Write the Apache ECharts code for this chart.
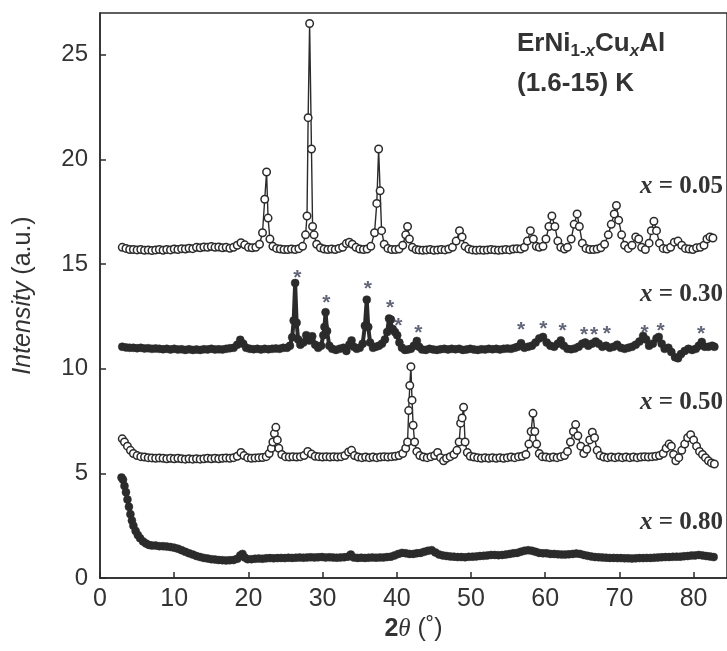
<!DOCTYPE html>
<html>
<head>
<meta charset="utf-8">
<script src="https://cdn.jsdelivr.net/npm/echarts@6/dist/echarts.min.js"></script>
<style>html,body{margin:0;padding:0;background:#fff}#c{width:727px;height:651px}</style>
</head>
<body>
<div id="c"></div>
<script>
// x = 0.05 (open circles)
const s005 = [[3.0,15.8],[3.5,15.75],[4,15.7],[4.5,15.7],[5,15.68],[5.5,15.7],[6,15.66],[6.5,15.68],[7,15.65],[7.5,15.68],[8,15.7],[8.5,15.66],[9,15.7],[9.5,15.68],[10,15.72],[10.5,15.7],[11,15.74],[11.5,15.72],[12,15.76],[12.5,15.74],[13,15.8],[13.5,15.78],[14,15.82],[14.5,15.8],[15,15.84],[15.5,15.8],[16,15.82],[16.5,15.78],[17,15.8],[17.5,15.76],[18,15.8],[18.5,15.9],[19,16.02],[19.5,15.92],[20,15.8],[20.5,15.78],[21,15.8],[21.5,15.95],[21.9,16.5],[22.2,18.1],[22.45,19.4],[22.65,17.2],[22.9,16.2],[23.3,15.85],[23.8,15.75],[24.3,15.72],[24.8,15.7],[25.3,15.7],[25.8,15.72],[26.3,15.7],[26.8,15.74],[27.3,15.85],[27.7,16.4],[27.9,17.3],[28.05,22.0],[28.25,26.5],[28.5,20.5],[28.65,16.8],[28.85,16.4],[29.2,15.95],[29.7,15.78],[30.2,15.72],[30.7,15.7],[31.2,15.72],[31.7,15.7],[32.2,15.75],[32.7,15.8],[33.2,15.98],[33.6,16.05],[34.0,15.95],[34.5,15.8],[35,15.72],[35.5,15.7],[36,15.72],[36.5,15.85],[37.0,16.5],[37.3,17.9],[37.55,20.5],[37.75,18.5],[37.95,16.6],[38.3,15.95],[38.8,15.75],[39.3,15.7],[39.8,15.7],[40.3,15.72],[40.8,15.9],[41.2,16.4],[41.45,16.8],[41.7,16.2],[42.1,15.8],[42.6,15.7],[43,15.68],[43.5,15.66],[44,15.68],[44.5,15.7],[45,15.66],[45.5,15.68],[46,15.7],[46.5,15.68],[47,15.72],[47.5,15.8],[48,16.1],[48.45,16.6],[48.8,16.3],[49.2,15.85],[49.7,15.72],[50.2,15.68],[50.7,15.66],[51.2,15.68],[51.7,15.66],[52.2,15.68],[52.7,15.7],[53.2,15.68],[53.7,15.66],[54.2,15.68],[54.7,15.7],[55.2,15.68],[55.7,15.72],[56.2,15.74],[56.7,15.72],[57.2,15.8],[57.6,16.1],[58.0,16.6],[58.4,16.2],[58.8,15.85],[59.2,15.8],[59.7,15.85],[60.1,16.2],[60.5,16.8],[60.9,17.3],[61.3,16.8],[61.7,16.1],[62.1,15.8],[62.6,15.72],[63.0,15.8],[63.5,16.2],[63.9,16.9],[64.3,17.4],[64.6,16.8],[65.0,16.0],[65.5,15.75],[66.0,15.7],[66.5,15.7],[67,15.72],[67.5,15.78],[68,15.95],[68.5,16.4],[68.9,16.9],[69.3,17.4],[69.6,17.8],[69.9,17.1],[70.3,16.4],[70.7,15.9],[71.2,15.75],[71.7,15.9],[72.2,16.3],[72.6,16.2],[73,15.8],[73.5,15.7],[74,16.0],[74.3,16.6],[74.65,17.05],[75.0,16.6],[75.4,16.0],[75.9,15.75],[76.4,15.72],[76.9,15.8],[77.4,16.05],[77.9,16.1],[78.4,15.9],[78.9,15.75],[79.4,15.72],[79.9,15.7],[80.4,15.78],[80.9,15.8],[81.4,15.9],[81.8,16.2],[82.2,16.3],[82.6,16.25]];

// x = 0.30 (filled circles)
const s030 = [[3.0,11.05],[3.5,11.02],[4,11.0],[4.5,11.0],[5,10.98],[5.5,11.0],[6,10.97],[6.5,10.98],[7,10.95],[7.5,10.97],[8,10.95],[8.5,10.93],[9,10.95],[9.5,10.92],[10,10.95],[10.5,10.92],[11,10.93],[11.5,10.9],[12,10.93],[12.5,10.9],[13,10.92],[13.5,10.9],[14,10.93],[14.5,10.92],[15,10.95],[15.5,10.92],[16,10.93],[16.5,10.92],[17,10.95],[17.5,10.98],[18,11.0],[18.5,11.15],[18.9,11.38],[19.3,11.2],[19.7,11.0],[20.2,10.95],[20.7,10.93],[21.2,10.95],[21.7,10.92],[22.2,10.95],[22.7,10.93],[23.2,10.95],[23.7,10.97],[24.2,10.95],[24.7,11.0],[25.2,11.0],[25.6,11.1],[25.9,11.5],[26.1,12.3],[26.3,14.1],[26.5,12.2],[26.7,11.4],[27.0,11.15],[27.4,11.25],[27.8,11.6],[28.2,11.35],[28.6,11.55],[29.0,11.15],[29.4,11.0],[29.8,11.1],[30.1,11.6],[30.25,12.0],[30.4,12.7],[30.6,11.8],[30.9,11.1],[31.3,10.95],[31.8,10.9],[32.3,10.95],[32.8,11.0],[33.2,10.85],[33.6,11.15],[33.9,11.35],[34.2,11.05],[34.6,10.95],[35.0,11.0],[35.4,11.2],[35.7,12.05],[35.95,13.3],[36.15,12.0],[36.4,11.25],[36.8,11.0],[37.2,11.05],[37.6,11.1],[38.0,11.2],[38.4,11.4],[38.7,11.75],[38.95,12.4],[39.2,12.35],[39.45,11.9],[39.75,11.75],[40.05,11.6],[40.35,11.25],[40.7,11.0],[41.1,10.9],[41.5,10.92],[41.9,10.95],[42.3,11.1],[42.7,11.33],[43.0,11.05],[43.4,10.92],[43.9,10.9],[44.4,10.95],[44.9,10.92],[45.4,10.9],[45.9,10.93],[46.4,10.95],[46.9,10.92],[47.4,10.95],[47.9,10.93],[48.4,10.95],[48.9,10.9],[49.4,10.92],[49.9,10.95],[50.4,10.92],[50.9,10.9],[51.4,10.93],[51.9,10.92],[52.4,10.95],[52.9,10.93],[53.4,10.95],[53.9,10.92],[54.4,10.95],[54.9,10.97],[55.4,10.95],[55.9,11.0],[56.3,11.05],[56.75,11.22],[57.2,11.0],[57.7,11.05],[58.2,11.1],[58.7,11.25],[59.2,11.45],[59.7,11.52],[60.2,11.25],[60.7,11.1],[61.2,11.05],[61.7,11.2],[62.1,11.35],[62.5,11.1],[63.0,10.95],[63.5,10.93],[64.0,10.97],[64.5,11.05],[65.0,11.2],[65.4,11.25],[65.8,11.1],[66.3,11.2],[66.8,11.3],[67.2,11.2],[67.7,11.05],[68.2,11.1],[68.7,11.0],[69.2,11.05],[69.7,11.15],[70.2,11.0],[70.7,10.95],[71.2,11.0],[71.7,11.05],[72.2,11.15],[72.7,11.3],[73.2,11.57],[73.6,11.4],[74.0,11.1],[74.5,11.2],[75.0,11.45],[75.3,11.52],[75.7,11.2],[76.1,10.95],[76.6,11.0],[77.0,10.8],[77.5,10.55],[77.9,10.5],[78.3,10.7],[78.8,10.85],[79.3,10.95],[79.8,10.9],[80.3,10.95],[80.7,11.1],[81.1,11.28],[81.5,11.05],[82.0,11.05],[82.5,11.1],[82.8,11.05]];

// x = 0.50 (open circles)
const s050 = [[3.0,6.65],[3.3,6.5],[3.7,6.3],[4.1,6.1],[4.5,5.95],[5.0,5.85],[5.5,5.8],[6.0,5.78],[6.5,5.75],[7.0,5.74],[7.5,5.72],[8.0,5.74],[8.5,5.72],[9.0,5.7],[9.5,5.72],[10.0,5.7],[10.5,5.72],[11.0,5.7],[11.5,5.68],[12.0,5.7],[12.5,5.68],[13.0,5.7],[13.5,5.68],[14.0,5.7],[14.5,5.72],[15.0,5.7],[15.5,5.72],[16.0,5.7],[16.5,5.72],[17.0,5.74],[17.5,5.72],[18.0,5.75],[18.5,5.82],[19.0,6.0],[19.4,5.85],[19.9,5.75],[20.4,5.72],[20.9,5.74],[21.4,5.75],[21.9,5.76],[22.4,5.8],[22.8,5.95],[23.1,6.2],[23.3,6.5],[23.5,6.9],[23.7,7.2],[23.9,6.6],[24.1,6.2],[24.5,5.9],[25.0,5.8],[25.5,5.78],[26.0,5.8],[26.5,5.78],[27.0,5.8],[27.5,5.85],[28.0,6.05],[28.5,5.92],[29.0,5.82],[29.5,5.8],[30.0,5.78],[30.5,5.8],[31.0,5.78],[31.5,5.8],[32.0,5.78],[32.5,5.8],[33.0,5.85],[33.5,6.02],[33.9,6.1],[34.3,5.85],[34.8,5.78],[35.3,5.75],[35.8,5.78],[36.3,5.75],[36.8,5.78],[37.3,5.75],[37.8,5.78],[38.3,5.8],[38.8,5.78],[39.3,5.8],[39.8,5.82],[40.3,5.85],[40.8,5.95],[41.2,6.2],[41.45,6.5],[41.6,8.0],[41.75,9.2],[41.9,10.1],[42.05,8.5],[42.2,7.3],[42.4,6.5],[42.7,6.05],[43.1,5.85],[43.6,5.78],[44.1,5.75],[44.6,5.8],[45.1,5.85],[45.5,6.0],[45.9,5.75],[46.3,5.6],[46.7,5.72],[47.2,5.8],[47.7,5.9],[48.1,6.1],[48.4,6.5],[48.6,7.4],[48.8,7.65],[49.0,8.16],[49.2,6.5],[49.5,6.0],[49.9,5.82],[50.4,5.78],[50.9,5.75],[51.4,5.72],[51.9,5.75],[52.4,5.72],[52.9,5.75],[53.4,5.72],[53.9,5.75],[54.4,5.72],[54.9,5.75],[55.4,5.78],[55.9,5.75],[56.4,5.8],[56.9,5.82],[57.4,5.9],[57.8,6.4],[58.1,7.0],[58.35,7.87],[58.6,7.0],[58.85,6.4],[59.2,5.95],[59.6,5.8],[60.1,5.78],[60.6,5.75],[61.1,5.78],[61.6,5.75],[62.1,5.8],[62.6,5.85],[63.0,6.05],[63.4,6.5],[63.8,7.0],[64.1,7.33],[64.4,6.8],[64.8,6.3],[65.2,5.95],[65.6,6.15],[66.0,6.6],[66.35,6.97],[66.65,6.7],[67.0,6.1],[67.4,5.85],[67.9,5.78],[68.4,5.75],[68.9,5.78],[69.4,5.75],[69.9,5.78],[70.4,5.75],[70.9,5.78],[71.4,5.75],[71.9,5.78],[72.4,5.75],[72.9,5.78],[73.4,5.8],[73.9,5.78],[74.4,5.8],[74.9,5.82],[75.4,5.85],[75.9,5.95],[76.3,6.2],[76.7,6.4],[77.0,6.3],[77.3,5.9],[77.6,5.6],[78.0,5.75],[78.4,6.1],[78.8,6.4],[79.2,6.7],[79.6,6.85],[80.0,6.6],[80.4,6.3],[80.8,6.05],[81.2,5.9],[81.6,5.75],[82.0,5.6],[82.4,5.5],[82.8,5.45]];

// x = 0.80 (filled circles)
const s080 = [[2.9,4.8],[3.1,4.7],[3.3,4.4],[3.5,4.1],[3.7,3.75],[3.9,3.4],[4.1,3.05],[4.3,2.75],[4.5,2.5],[4.8,2.25],[5.1,2.05],[5.4,1.9],[5.8,1.75],[6.2,1.65],[6.6,1.58],[7.0,1.55],[7.5,1.55],[8.0,1.52],[8.5,1.52],[9.0,1.5],[9.5,1.48],[10.0,1.45],[10.5,1.4],[11.0,1.33],[11.5,1.25],[12.0,1.18],[12.5,1.12],[13.0,1.05],[13.5,1.0],[14.0,0.96],[14.5,0.93],[15.0,0.9],[15.5,0.88],[16.0,0.86],[16.5,0.85],[17.0,0.84],[17.5,0.85],[18.0,0.86],[18.5,0.92],[18.9,1.08],[19.2,1.15],[19.5,0.98],[19.9,0.9],[20.4,0.9],[20.9,0.92],[21.4,0.93],[21.9,0.92],[22.4,0.94],[22.9,0.95],[23.4,0.94],[23.9,0.95],[24.4,0.96],[24.9,0.95],[25.4,0.97],[25.9,0.96],[26.4,0.97],[26.9,0.98],[27.4,0.97],[27.9,0.98],[28.4,0.99],[28.9,0.98],[29.4,0.99],[29.9,1.0],[30.4,0.98],[30.9,0.99],[31.4,0.98],[31.9,0.97],[32.4,0.98],[32.9,0.99],[33.4,1.02],[33.8,1.12],[34.2,0.98],[34.7,0.96],[35.2,0.97],[35.7,0.96],[36.2,0.97],[36.7,0.98],[37.2,0.97],[37.7,0.98],[38.2,0.98],[38.7,1.0],[39.2,1.02],[39.7,1.08],[40.2,1.15],[40.7,1.2],[41.2,1.18],[41.7,1.15],[42.2,1.15],[42.7,1.18],[43.2,1.2],[43.7,1.25],[44.2,1.3],[44.7,1.33],[45.2,1.22],[45.7,1.12],[46.2,1.08],[46.7,1.05],[47.2,1.03],[47.7,1.02],[48.2,1.0],[48.7,1.0],[49.2,0.99],[49.7,1.01],[50.2,1.02],[50.7,1.03],[51.2,1.05],[51.7,1.06],[52.2,1.08],[52.7,1.1],[53.2,1.1],[53.7,1.09],[54.2,1.1],[54.7,1.12],[55.2,1.15],[55.7,1.18],[56.2,1.2],[56.7,1.25],[57.2,1.3],[57.7,1.33],[58.2,1.3],[58.7,1.25],[59.2,1.2],[59.7,1.18],[60.2,1.18],[60.7,1.15],[61.2,1.15],[61.7,1.13],[62.2,1.12],[62.7,1.12],[63.2,1.13],[63.7,1.15],[64.2,1.17],[64.7,1.15],[65.2,1.1],[65.7,1.06],[66.2,1.03],[66.7,1.0],[67.2,0.99],[67.7,0.98],[68.2,0.97],[68.7,0.96],[69.2,0.96],[69.7,0.95],[70.2,0.95],[70.7,0.94],[71.2,0.94],[71.7,0.93],[72.2,0.94],[72.7,0.95],[73.2,0.95],[73.7,0.96],[74.2,0.96],[74.7,0.97],[75.2,0.98],[75.7,0.99],[76.2,1.0],[76.7,1.0],[77.2,1.01],[77.7,1.02],[78.2,1.02],[78.7,1.04],[79.2,1.05],[79.7,1.07],[80.2,1.08],[80.7,1.1],[81.2,1.08],[81.7,1.05],[82.2,1.03],[82.7,1.0]];

// asterisks marking impurity peaks of x = 0.30
const stars = [[26.6,14.63],[30.5,13.44],[36.1,14.1],[39.1,13.2],[40.2,12.3],[42.9,11.97],[56.75,12.13],[59.75,12.16],[62.35,12.08],[65.25,11.89],[66.6,11.89],[68.3,11.92],[73.4,12.0],[75.55,12.08],[81.0,11.92]];

const xTickLabels = ['0','10','20','30','40','50','60','70','80'];
const yTickLabels = ['0','5','10','15','20','25'];
const seriesLabels = ['0.05','0.30','0.50','0.80'];

const INK = '#2b2b2b';
function openSeries(name, data) {
  return {name, type:'line', data, symbol:'circle', symbolSize:7.5, showSymbol:true, showAllSymbol:true,
    lineStyle:{color:INK, width:1.4}, itemStyle:{color:'#fff', borderColor:INK, borderWidth:1.5},
    z:3, animation:false};
}
function filledSeries(name, data) {
  return {name, type:'line', data, symbol:'circle', symbolSize:8, showSymbol:true, showAllSymbol:true,
    lineStyle:{color:INK, width:4}, itemStyle:{color:INK, borderColor:INK, borderWidth:0.5},
    z:3, animation:false};
}
function tickFmt(labels, step) {
  return function(v){
    const k = Math.round(v/step);
    if (Math.abs(v - k*step) > 1e-6) return '';
    return labels[k] || '';
  };
}
function seriesLabel(txt, y) {
  return {type:'text', x:723, y:y, z:10, style:{
    text:'{i|x}{n| = ' + txt + '}', align:'right', verticalAlign:'middle',
    rich:{
      i:{fontSize:25, fontWeight:'bold', fontStyle:'italic', fontFamily:'"Liberation Serif", serif', fill:'#333'},
      n:{fontSize:25, fontWeight:'bold', fontFamily:'"Liberation Serif", serif', fill:'#333'}
    }}};
}

const SANS = '"Liberation Sans", Arial, sans-serif';
const chart = echarts.init(document.getElementById('c'), null, {renderer:'canvas'});
chart.setOption({
  animation:false,
  backgroundColor:'#fff',
  grid:{left:100, top:13, right:-3, bottom:73, show:true, borderColor:INK, borderWidth:1.5, backgroundColor:'transparent'},
  xAxis:{type:'value', min:0, max:84.5, interval:10,
    axisLine:{lineStyle:{color:INK, width:1.5}},
    axisTick:{inside:true, length:6, lineStyle:{color:INK, width:1.5}},
    axisLabel:{color:'#333', fontSize:25, fontFamily:SANS, margin:9, showMaxLabel:false,
      formatter:tickFmt(xTickLabels, 10)},
    splitLine:{show:false},
    name:'{b|2}{i|θ} (˚)', nameLocation:'middle', nameGap:38,
    nameTextStyle:{color:'#333', fontSize:25, fontFamily:SANS,
      rich:{b:{fontWeight:'bold', fontSize:25, fontFamily:SANS, color:'#333'},
            i:{fontStyle:'italic', fontSize:25, fontFamily:'"Liberation Serif", serif', color:'#333'}}}
  },
  yAxis:{type:'value', min:0, max:27, interval:5,
    axisLine:{lineStyle:{color:INK, width:1.5}},
    axisTick:{inside:true, length:6, lineStyle:{color:INK, width:1.5}},
    axisLabel:{color:'#333', fontSize:24, fontFamily:SANS, margin:12, showMaxLabel:false,
      formatter:tickFmt(yTickLabels, 5)},
    splitLine:{show:false},
    name:'{i|Intensity} (a.u.)', nameLocation:'middle', nameGap:64, nameRotate:90,
    nameTextStyle:{color:'#333', fontSize:25, fontFamily:SANS,
      rich:{i:{fontStyle:'italic', fontSize:25, fontFamily:SANS, color:'#333'}}}
  },
  series:[
    openSeries('x = 0.05', s005),
    filledSeries('x = 0.30', s030),
    openSeries('x = 0.50', s050),
    filledSeries('x = 0.80', s080),
    {name:'impurity', type:'scatter', data:stars, symbolSize:0, z:5, animation:false,
      label:{show:true, formatter:'*', position:'inside', offset:[0,6], color:'#3a3f55',
        fontSize:21, fontWeight:'bold', fontFamily:SANS}}
  ],
  graphic:[
    {type:'text', left:517, top:28, z:10, style:{
      text:'{a|ErNi}{s|1-}{si|x}{a|Cu}{si|x}{a|Al}',
      rich:{
        a:{fontSize:26, fontWeight:'bold', fontFamily:SANS, fill:'#333', lineHeight:30},
        s:{fontSize:17, fontWeight:'bold', fontFamily:SANS, fill:'#333', padding:[15,0,0,0], lineHeight:18},
        si:{fontSize:17, fontWeight:'bold', fontStyle:'italic', fontFamily:SANS, fill:'#333', padding:[15,0,0,0], lineHeight:18}
      }}},
    {type:'text', left:517, top:71, z:10, style:{text:'(1.6-15) K', fontSize:26, fontWeight:'bold', fontFamily:SANS, fill:'#333'}},
    seriesLabel(seriesLabels[0], 187),
    seriesLabel(seriesLabels[1], 295),
    seriesLabel(seriesLabels[2], 403),
    seriesLabel(seriesLabels[3], 523)
  ]
});
</script>
</body>
</html>
